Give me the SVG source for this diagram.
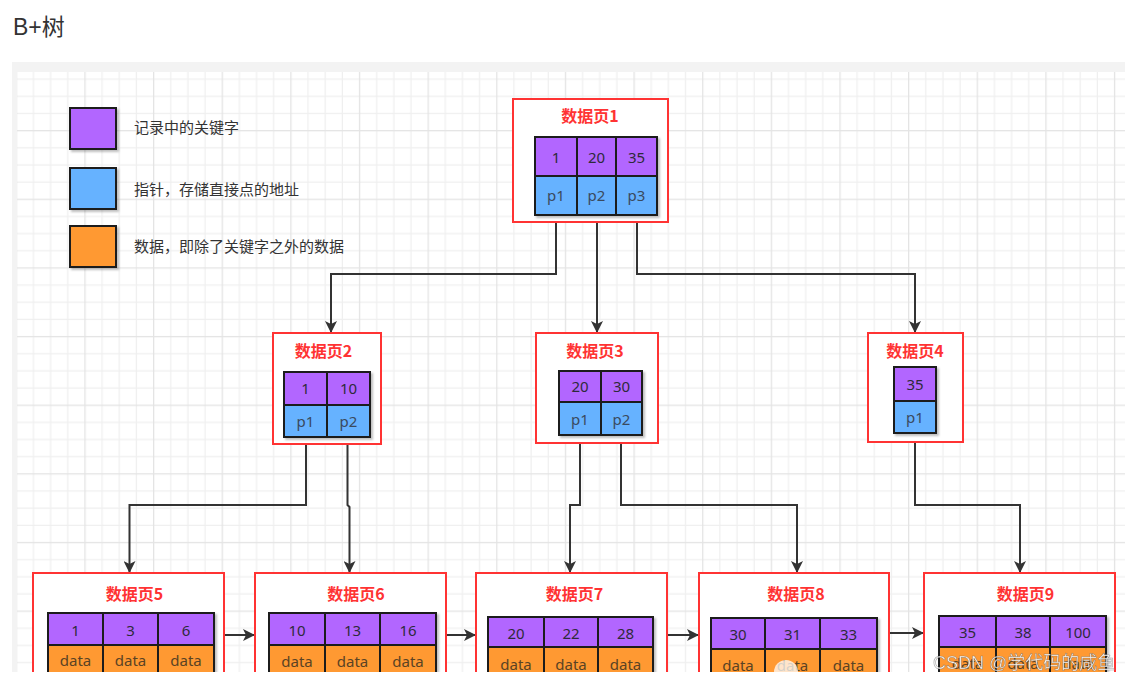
<svg xmlns="http://www.w3.org/2000/svg" width="1140" height="682" viewBox="0 0 1140 682">
<defs>
<style>
.page{fill:#fff;stroke:#ff3333;stroke-width:2}
.kw{fill:#b266ff;stroke:#1e1e1e;stroke-width:2}
.ptr{fill:#66b2ff;stroke:#1e1e1e;stroke-width:2}
.dat{fill:#ff9933;stroke:#1e1e1e;stroke-width:2}
.ttl{font-family:"Noto Sans CJK SC","Noto Sans",sans-serif;font-weight:bold;font-size:16px;fill:#ff3333;text-anchor:middle;dominant-baseline:central}
.ct{font-family:"Noto Sans","Liberation Sans",sans-serif;font-size:15px;text-anchor:middle;dominant-baseline:central}
.tk{fill:#2e2a3a}
.tp{fill:#3a4a5e}
.td{fill:#5a4324}
.lg{font-family:"Noto Sans CJK SC",sans-serif;font-size:15px;fill:#333}
.con{fill:none;stroke:#333;stroke-width:2}
.tbl{filter:url(#sh)}
</style>
<filter id="sh" x="-10%" y="-10%" width="130%" height="130%">
<feDropShadow dx="2" dy="2" stdDeviation="1" flood-color="#000" flood-opacity="0.25"/>
</filter>
<marker id="ah" viewBox="0 0 12 12" markerUnits="userSpaceOnUse" markerWidth="12" markerHeight="12" refX="12" refY="6" orient="auto">
<path d="M0,0 L12,6 L0,12 L3,6 Z" fill="#333"/>
</marker>
<pattern id="grid" patternUnits="userSpaceOnUse" x="15.7" y="61.4" width="68.64" height="68.64">
<rect x="0" y="17.16" width="68.64" height="1.2" fill="#efefef"/>
<rect x="0" y="34.32" width="68.64" height="1.2" fill="#efefef"/>
<rect x="0" y="51.48" width="68.64" height="1.2" fill="#efefef"/>
<rect x="17.16" y="0" width="1.2" height="68.64" fill="#efefef"/>
<rect x="34.32" y="0" width="1.2" height="68.64" fill="#efefef"/>
<rect x="51.48" y="0" width="1.2" height="68.64" fill="#efefef"/>
<rect x="0" y="0" width="68.64" height="1.3" fill="#e4e4e4"/>
<rect x="0" y="0" width="1.3" height="68.64" fill="#e4e4e4"/>
</pattern>
</defs>

<rect x="0" y="0" width="1140" height="682" fill="#fff"/>
<text x="13" y="34.5" font-family="Liberation Sans, Noto Sans CJK SC, sans-serif" font-size="23" fill="#333">B+树</text>

<g id="canvas">
<rect x="12" y="62" width="1113" height="610" fill="#f3f3f3"/>
<rect x="17" y="72" width="1108" height="600" fill="#fff"/>
<rect x="17" y="72" width="1108" height="600" fill="url(#grid)"/>
</g>

<g id="legend">
<g id="legend-key">
<rect class="kw tbl" x="70" y="108" width="46" height="41"/>
<text class="lg" x="134" y="133">记录中的关键字</text>
</g>
<g id="legend-ptr">
<rect class="ptr tbl" x="70" y="168" width="46" height="41"/>
<text class="lg" x="134" y="195">指针，存储直接点的地址</text>
</g>
<g id="legend-data">
<rect class="dat tbl" x="70" y="226" width="46" height="41"/>
<text class="lg" x="134" y="252">数据，即除了关键字之外的数据</text>
</g>
</g>

<g id="connectors">
<path class="con" d="M556,215 V274 H331 V333" marker-end="url(#ah)"/>
<path class="con" d="M597,215 V333" marker-end="url(#ah)"/>
<path class="con" d="M637,215 V274 H915 V333" marker-end="url(#ah)"/>
<path class="con" d="M306,437 V505 H129.5 V573" marker-end="url(#ah)"/>
<path class="con" d="M347.5,437 V505 L349.5,507 V573" marker-end="url(#ah)"/>
<path class="con" d="M580,435 V505 H570 V573" marker-end="url(#ah)"/>
<path class="con" d="M621,435 V505 H797 V573" marker-end="url(#ah)"/>
<path class="con" d="M915,433 V505 H1020 V573" marker-end="url(#ah)"/>
<path class="con" d="M224,635 H255" marker-end="url(#ah)"/>
<path class="con" d="M446,635 H476" marker-end="url(#ah)"/>
<path class="con" d="M667,635 H699" marker-end="url(#ah)"/>
<path class="con" d="M889,633 H924" marker-end="url(#ah)"/>
</g>

<g id="page1">
<rect class="page" x="513" y="99" width="155" height="123"/>
<text class="ttl" x="590" y="115">数据页1</text>
<g class="tbl">
<rect class="kw" x="535" y="137" width="42" height="39"/>
<rect class="kw" x="577" y="137" width="39" height="39"/>
<rect class="kw" x="616" y="137" width="41" height="39"/>
<rect class="ptr" x="535" y="176" width="42" height="39"/>
<rect class="ptr" x="577" y="176" width="39" height="39"/>
<rect class="ptr" x="616" y="176" width="41" height="39"/>
</g>
<text class="ct tk" x="556" y="157">1</text>
<text class="ct tk" x="596.5" y="157">20</text>
<text class="ct tk" x="636.5" y="157">35</text>
<text class="ct tp" x="556" y="195">p1</text>
<text class="ct tp" x="596.5" y="195">p2</text>
<text class="ct tp" x="636.5" y="195">p3</text>
</g>

<g id="page2">
<rect class="page" x="273" y="333" width="108" height="111"/>
<text class="ttl" x="323.5" y="350">数据页2</text>
<g class="tbl">
<rect class="kw" x="284" y="372" width="43" height="33"/>
<rect class="kw" x="327" y="372" width="43" height="33"/>
<rect class="ptr" x="284" y="405" width="43" height="32"/>
<rect class="ptr" x="327" y="405" width="43" height="32"/>
</g>
<text class="ct tk" x="305.5" y="388">1</text>
<text class="ct tk" x="348.5" y="388">10</text>
<text class="ct tp" x="305.5" y="420.5">p1</text>
<text class="ct tp" x="348.5" y="420.5">p2</text>
</g>

<g id="page3">
<rect class="page" x="536" y="333" width="122" height="110"/>
<text class="ttl" x="595" y="350">数据页3</text>
<g class="tbl">
<rect class="kw" x="559" y="371" width="42" height="31"/>
<rect class="kw" x="601" y="371" width="41" height="31"/>
<rect class="ptr" x="559" y="402" width="42" height="33"/>
<rect class="ptr" x="601" y="402" width="41" height="33"/>
</g>
<text class="ct tk" x="580" y="386">20</text>
<text class="ct tk" x="621.5" y="386">30</text>
<text class="ct tp" x="580" y="418.5">p1</text>
<text class="ct tp" x="621.5" y="418.5">p2</text>
</g>

<g id="page4">
<rect class="page" x="868" y="333" width="95" height="109"/>
<text class="ttl" x="915" y="350">数据页4</text>
<g class="tbl">
<rect class="kw" x="894" y="367" width="42" height="34"/>
<rect class="ptr" x="894" y="401" width="42" height="32"/>
</g>
<text class="ct tk" x="915" y="384">35</text>
<text class="ct tp" x="915" y="417">p1</text>
</g>

<g id="page5">
<rect class="page" x="33" y="573" width="191" height="120"/>
<text class="ttl" x="134.5" y="592.5">数据页5</text>
<g class="tbl">
<rect class="kw" x="48" y="613" width="55" height="32"/>
<rect class="kw" x="103" y="613" width="55" height="32"/>
<rect class="kw" x="158" y="613" width="56" height="32"/>
<rect class="dat" x="48" y="645" width="55" height="33"/>
<rect class="dat" x="103" y="645" width="55" height="33"/>
<rect class="dat" x="158" y="645" width="56" height="33"/>
</g>
<text class="ct tk" x="75.5" y="629.5">1</text>
<text class="ct tk" x="130.5" y="629.5">3</text>
<text class="ct tk" x="186" y="629.5">6</text>
<text class="ct td" x="75.5" y="660">data</text>
<text class="ct td" x="130.5" y="660">data</text>
<text class="ct td" x="186" y="660">data</text>
</g>

<g id="page6">
<rect class="page" x="255" y="573" width="191" height="120"/>
<text class="ttl" x="356" y="593">数据页6</text>
<g class="tbl">
<rect class="kw" x="269" y="613" width="56" height="32"/>
<rect class="kw" x="325" y="613" width="55" height="32"/>
<rect class="kw" x="380" y="613" width="56" height="32"/>
<rect class="dat" x="269" y="645" width="56" height="33"/>
<rect class="dat" x="325" y="645" width="55" height="33"/>
<rect class="dat" x="380" y="645" width="56" height="33"/>
</g>
<text class="ct tk" x="297" y="630">10</text>
<text class="ct tk" x="352.5" y="630">13</text>
<text class="ct tk" x="408" y="630">16</text>
<text class="ct td" x="297" y="661">data</text>
<text class="ct td" x="352.5" y="661">data</text>
<text class="ct td" x="408" y="661">data</text>
</g>

<g id="page7">
<rect class="page" x="476" y="573" width="191" height="120"/>
<text class="ttl" x="574.5" y="593">数据页7</text>
<g class="tbl">
<rect class="kw" x="488" y="617" width="56" height="30"/>
<rect class="kw" x="544" y="617" width="54" height="30"/>
<rect class="kw" x="598" y="617" width="55" height="30"/>
<rect class="dat" x="488" y="647" width="56" height="33"/>
<rect class="dat" x="544" y="647" width="54" height="33"/>
<rect class="dat" x="598" y="647" width="55" height="33"/>
</g>
<text class="ct tk" x="516" y="632.5">20</text>
<text class="ct tk" x="571" y="632.5">22</text>
<text class="ct tk" x="625.5" y="632.5">28</text>
<text class="ct td" x="516" y="664">data</text>
<text class="ct td" x="571" y="664">data</text>
<text class="ct td" x="625.5" y="664">data</text>
</g>

<g id="page8">
<rect class="page" x="699" y="573" width="190" height="120"/>
<text class="ttl" x="796" y="593">数据页8</text>
<g class="tbl">
<rect class="kw" x="711" y="618" width="54" height="31"/>
<rect class="kw" x="765" y="618" width="55" height="31"/>
<rect class="kw" x="820" y="618" width="57" height="31"/>
<rect class="dat" x="711" y="649" width="54" height="33"/>
<rect class="dat" x="765" y="649" width="55" height="33"/>
<rect class="dat" x="820" y="649" width="57" height="33"/>
</g>
<text class="ct tk" x="738" y="633.5">30</text>
<text class="ct tk" x="792.5" y="633.5">31</text>
<text class="ct tk" x="848.5" y="633.5">33</text>
<text class="ct td" x="738" y="664.5">data</text>
<text class="ct td" x="792.5" y="664.5">data</text>
<text class="ct td" x="848.5" y="664.5">data</text>
</g>

<g id="page9">
<rect class="page" x="924" y="573" width="191" height="120"/>
<text class="ttl" x="1025.5" y="593">数据页9</text>
<g class="tbl">
<rect class="kw" x="939" y="616" width="57" height="31"/>
<rect class="kw" x="996" y="616" width="54" height="31"/>
<rect class="kw" x="1050" y="616" width="56" height="31"/>
<rect class="dat" x="939" y="647" width="57" height="33"/>
<rect class="dat" x="996" y="647" width="54" height="33"/>
<rect class="dat" x="1050" y="647" width="56" height="33"/>
</g>
<text class="ct tk" x="967.5" y="632">35</text>
<text class="ct tk" x="1023" y="632">38</text>
<text class="ct tk" x="1078" y="632">100</text>
<text class="ct td" x="967.5" y="663">data</text>
<text class="ct td" x="1023" y="663">data</text>
<text class="ct td" x="1078" y="663">data</text>
</g>

<rect x="0" y="672" width="1140" height="10" fill="#fff"/>
<circle cx="786" cy="672" r="12" fill="#fff" opacity="0.75"/>
<text x="933" y="669" font-family="Liberation Sans, Noto Sans CJK SC, sans-serif" font-size="18" fill="#fff" stroke="#555" stroke-width="0.6" stroke-opacity="0.6" opacity="0.9">CSDN @学代码的咸鱼</text>
</svg>
